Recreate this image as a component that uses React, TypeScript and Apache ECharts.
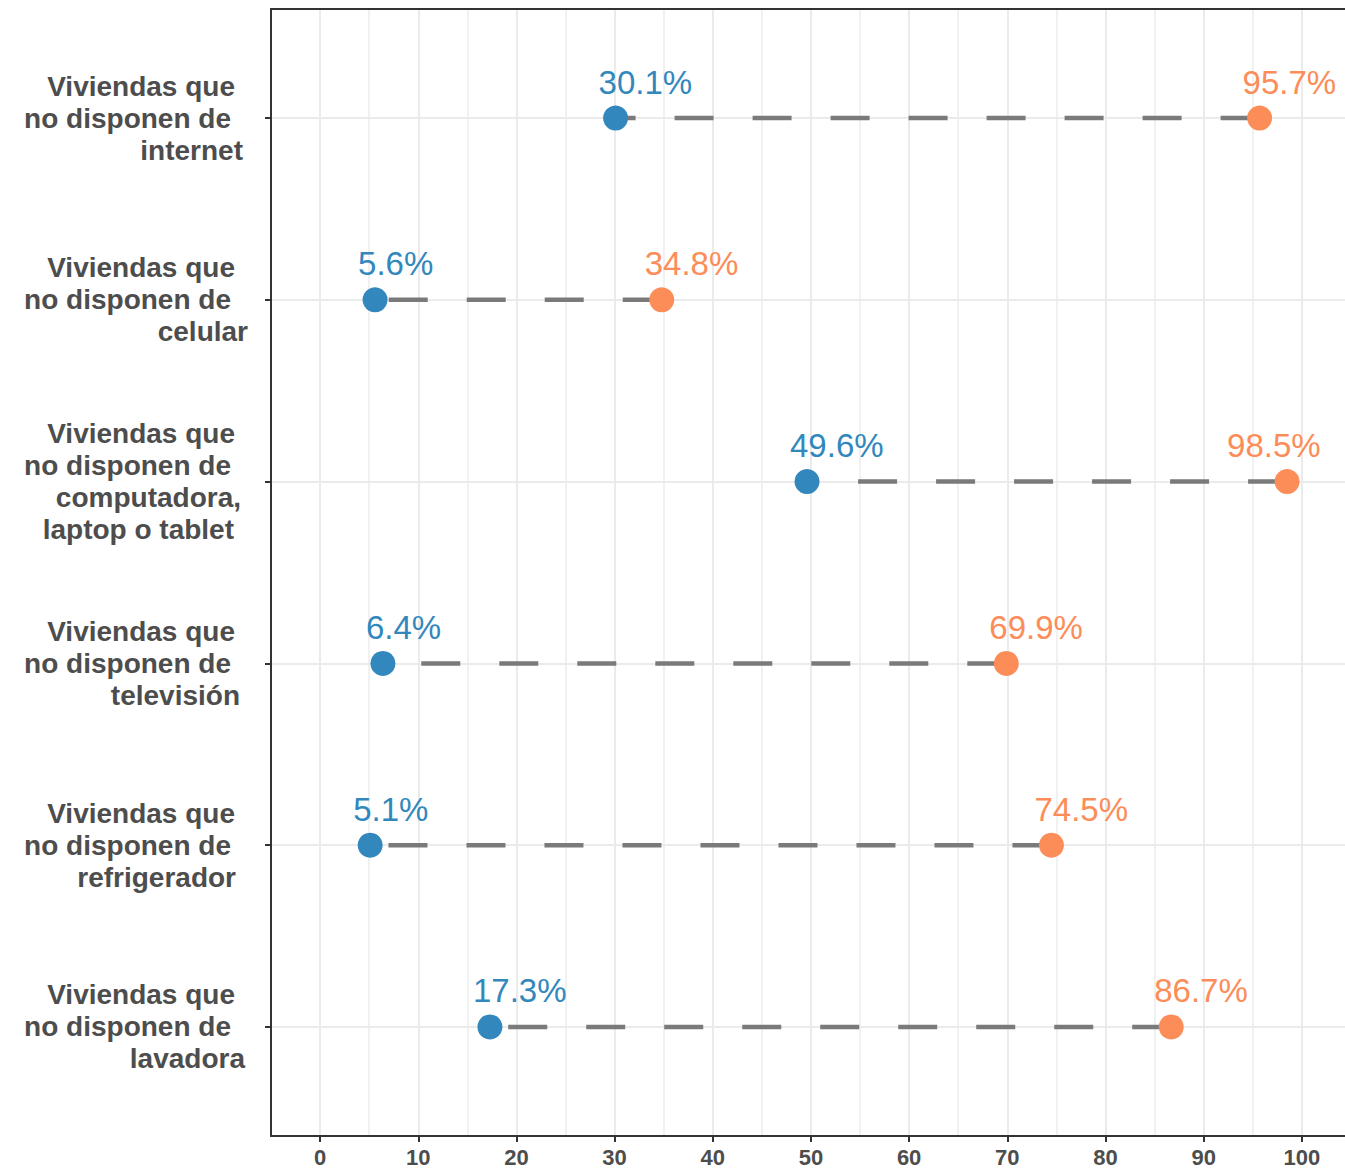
import React, { useEffect, useRef } from "react";
import * as echarts from "echarts";

// ---- Data ----
const categoryLines: string[][] = [
  ["Viviendas que", "no disponen de", "internet"],
  ["Viviendas que", "no disponen de", "celular"],
  ["Viviendas que", "no disponen de", "computadora,", "laptop o tablet"],
  ["Viviendas que", "no disponen de", "televisión"],
  ["Viviendas que", "no disponen de", "refrigerador"],
  ["Viviendas que", "no disponen de", "lavadora"],
];
const blueValues = [30.1, 5.6, 49.6, 6.4, 5.1, 17.3];
const orangeValues = [95.7, 34.8, 98.5, 69.9, 74.5, 86.7];
const xTickValues = [0, 10, 20, 30, 40, 50, 60, 70, 80, 90, 100];
const xMinorValues = [5, 15, 25, 35, 45, 55, 65, 75, 85, 95];
const yPositions = [1, 2, 3, 4, 5, 6];

// ---- Styles ----
const BLUE = "#3288BD";
const ORANGE = "#FC8D59";
const TEXT = "#4D4D4D";
const FONT = "'Liberation Sans', Arial, sans-serif";
// right padding of each label line (ragged right edges in the reference)
const linePads: number[][] = [
  [13, 17, 5],
  [13, 17, 0],
  [13, 17, 7, 14],
  [13, 17, 8],
  [13, 17, 12],
  [13, 17, 3],
];
const orangeLabelShift = [0, 0, -43, 0, 0, 0];

export default function App() {
  const ref = useRef<HTMLDivElement>(null);

  useEffect(() => {
    document.body.style.margin = "0";
    if (!ref.current) return;
    const chart = echarts.init(ref.current, undefined, { renderer: "svg" });

    const rich: Record<string, any> = {};
    linePads.flat().forEach((p) => {
      rich["p" + p] = {
        fontSize: 28,
        fontWeight: "bold",
        color: TEXT,
        fontFamily: FONT,
        lineHeight: 32,
        align: "right",
        padding: [0, p, 0, 0],
      };
    });

    const dumbbells = blueValues.map((b, i) => ({
      type: "line",
      data: [
        [orangeValues[i], yPositions[i]],
        [b, yPositions[i]],
      ],
      symbol: "none",
      silent: true,
      z: 3,
      lineStyle: { color: "#7A7A7A", width: 4.5, type: [39, 39], dashOffset: 0 },
    }));

    const majorLine = { color: "#EBEBEB", width: 2 };
    const minorLine = { color: "#EEEEEE", width: 1.6 };
    const frameLine = { color: "#333333", width: 2 };

    const option: any = {
      animation: false,
      grid: {
        left: 271,
        right: 0,
        top: 9,
        bottom: 36,
        show: false,
      },
      xAxis: [
        {
          type: "value",
          min: -5,
          max: 104.4,
          axisLine: { show: true, lineStyle: frameLine, onZero: false },
          axisTick: {
            show: true,
            customValues: xTickValues,
            length: 6,
            lineStyle: { color: "#333333", width: 2 },
          },
          axisLabel: {
            customValues: xTickValues,
            margin: 10,
            fontSize: 22,
            fontWeight: "bold",
            color: TEXT,
            fontFamily: FONT,
          },
          splitLine: { show: false },
          z: 10,
        },
        {
          type: "value",
          position: "top",
          min: -5,
          max: 104.4,
          axisLine: { show: true, lineStyle: frameLine, onZero: false },
          axisTick: { show: false },
          axisLabel: { show: false },
          splitLine: { show: false },
          z: 10,
        },
      ],
      yAxis: {
        type: "value",
        min: 0.4,
        max: 6.6,
        inverse: true,
        axisLine: { show: true, lineStyle: frameLine, onZero: false },
        axisTick: {
          show: true,
          customValues: yPositions,
          length: 6,
          lineStyle: { color: "#333333", width: 2 },
        },
        axisLabel: {
          customValues: yPositions,
          margin: 23,
          formatter: (v: number) => {
            const i = Math.round(v) - 1;
            const lines = categoryLines[i];
            if (!lines) return "";
            return lines.map((l, k) => `{p${linePads[i][k]}|${l}}`).join("\n");
          },
          rich,
        },
        splitLine: { show: false },
        z: 10,
      },
      series: [
        {
          type: "line",
          data: [],
          z: 1,
          silent: true,
          markLine: {
            silent: true,
            z: 1,
            symbol: "none",
            label: { show: false },
            animation: false,
            data: [
              ...xMinorValues.map((v) => ({ xAxis: v, lineStyle: { ...minorLine, type: "solid" } })),
              ...xTickValues.map((v) => ({ xAxis: v, lineStyle: { ...majorLine, type: "solid" } })),
              ...yPositions.map((v) => ({ yAxis: v, lineStyle: { ...majorLine, type: "solid" } })),
            ],
          },
        },
        ...dumbbells,
        {
          type: "scatter",
          z: 4,
          symbolSize: 25,
          itemStyle: { color: BLUE, opacity: 1 },
          data: blueValues.map((v, i) => [v, yPositions[i]]),
          label: {
            show: true,
            position: "top",
            distance: 7,
            align: "left",
            offset: [-17, 0],
            fontSize: 33,
            lineHeight: 33,
            color: BLUE,
            fontFamily: FONT,
            formatter: (p: any) => `${p.value[0].toFixed(1)}%`,
          },
        },
        {
          type: "scatter",
          z: 4,
          symbolSize: 25,
          itemStyle: { color: ORANGE, opacity: 1 },
          data: orangeValues.map((v, i) => ({
            value: [v, yPositions[i]],
            label: { offset: [-17 + orangeLabelShift[i], 0] },
          })),
          label: {
            show: true,
            position: "top",
            distance: 7,
            align: "left",
            offset: [-17, 0],
            fontSize: 33,
            lineHeight: 33,
            color: ORANGE,
            fontFamily: FONT,
            formatter: (p: any) => `${p.value[0].toFixed(1)}%`,
          },
        },
      ],
    };

    chart.setOption(option);
    return () => chart.dispose();
  }, []);

  return <div ref={ref} style={{ width: 1345, height: 1172 }} />;
}
